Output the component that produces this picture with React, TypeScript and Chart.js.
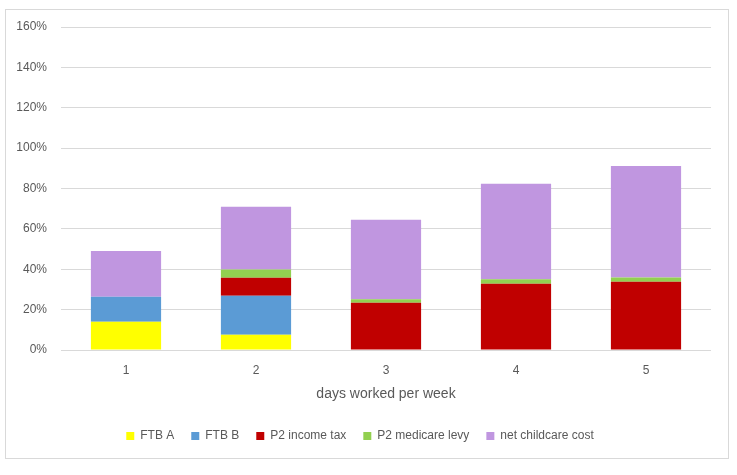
import React, { useEffect, useRef } from "react";
import { Chart, registerables } from "chart.js";

Chart.register(...registerables);

const categories = ["1", "2", "3", "4", "5"];
const ftbA = [14.0, 7.6, 0, 0, 0];
const ftbB = [12.4, 19.3, 0, 0, 0];
const p2IncomeTax = [0, 8.9, 23.4, 32.8, 33.8];
const p2MedicareLevy = [0, 4.1, 1.8, 2.2, 2.1];
const netChildcareCost = [22.7, 31.1, 39.3, 47.3, 55.3];
const yTicks = [0, 20, 40, 60, 80, 100, 120, 140, 160];

const FONT = "'Liberation Sans', Arial, sans-serif";
const TEXT = "#595959";

export default function App() {
  const ref = useRef<HTMLCanvasElement | null>(null);

  useEffect(() => {
    if (!ref.current) return;
    const mk = (label: string, data: number[], color: string) => ({
      label,
      data,
      backgroundColor: color,
      borderWidth: 0,
      barPercentage: 0.54,
      categoryPercentage: 1,
    });
    const chart = new Chart(ref.current, {
      type: "bar",
      data: {
        labels: categories,
        datasets: [
          mk("FTB A", ftbA, "#FFFF00"),
          mk("FTB B", ftbB, "#5B9BD5"),
          mk("P2 income tax", p2IncomeTax, "#C00000"),
          mk("P2 medicare levy", p2MedicareLevy, "#92D050"),
          mk("net childcare cost", netChildcareCost, "#C096E0"),
        ],
      },
      options: {
        animation: false,
        responsive: false,
        maintainAspectRatio: false,
        layout: { padding: { left: 9, right: 26, top: 27, bottom: 23 } },
        plugins: {
          tooltip: { enabled: false },
          legend: {
            position: "bottom",
            labels: {
              boxWidth: 8,
              boxHeight: 8,
              padding: 17,
              color: TEXT,
              font: { family: FONT, size: 12 },
            },
          },
        },
        scales: {
          x: {
            stacked: true,
            grid: { display: false, drawTicks: false },
            border: { display: false },
            ticks: { color: TEXT, padding: 13, font: { family: FONT, size: 12 } },
            title: {
              display: true,
              text: "days worked per week",
              color: TEXT,
              font: { family: FONT, size: 14 },
              padding: { top: 4, bottom: 10 },
            },
            afterFit: (s: any) => {
              s.height = 63;
            },
          },
          y: {
            stacked: true,
            min: 0,
            max: 160,
            afterBuildTicks: (s: any) => {
              s.ticks = yTicks.map((v) => ({ value: v }));
            },
            grid: { color: "#d9d9d9", drawTicks: false, lineWidth: 1 },
            border: { display: false },
            ticks: {
              color: TEXT,
              padding: 14,
              font: { family: FONT, size: 12 },
              callback: (v: any) => v + "%",
            },
            afterFit: (s: any) => {
              s.width = 52;
            },
          },
        },
      },
    });
    return () => chart.destroy();
  }, []);

  return (
    <div style={{ position: "absolute", left: 0, top: 0, width: 737, height: 475, background: "#fff" }}>
      <div
        style={{
          position: "absolute",
          left: 5,
          top: 9,
          width: 724,
          height: 450,
          border: "1px solid #d9d9d9",
          boxSizing: "border-box",
        }}
      />
      <canvas ref={ref} width={737} height={475} style={{ position: "absolute", left: 0, top: 0 }} />
    </div>
  );
}
